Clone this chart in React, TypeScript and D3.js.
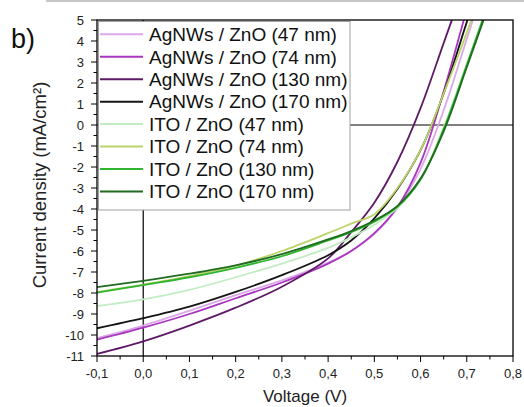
import React from "react";
import * as d3 from "d3";

const voltage = [-0.1, 0, 0.1, 0.2, 0.3, 0.4, 0.45, 0.5, 0.55, 0.6, 0.65, 0.7, 0.75];

const seriesNames = [
  "AgNWs / ZnO (47 nm)",
  "AgNWs / ZnO (74 nm)",
  "AgNWs / ZnO (130 nm)",
  "AgNWs / ZnO (170 nm)",
  "ITO / ZnO (47 nm)",
  "ITO / ZnO (74 nm)",
  "ITO / ZnO (130 nm)",
  "ITO / ZnO (170 nm)",
];
const seriesColors = ["#dba8e8", "#a836bf", "#5e1a66", "#151515", "#c2ecc2", "#bcd46a", "#2fb52f", "#1f6b1f"];

const ag47 = [-10.15, -9.55, -8.85, -8.1, -7.4, -6.55, -6.0, -5.2, -3.95, -2.1, 0.7, 4.1, 7.5];
const ag74 = [-10.22, -9.65, -9.0, -8.25, -7.5, -6.6, -6.0, -5.15, -3.9, -1.8, 1.6, 5.5, 9.3];
const ag130 = [-10.9, -10.3, -9.55, -8.7, -7.7, -6.35, -5.1, -3.7, -1.75, 0.8, 3.9, 7.0, 10.0];
const ag170 = [-9.68, -9.2, -8.65, -7.95, -7.15, -6.2, -5.5, -4.45, -3.05, -1.2, 1.5, 4.9, 8.2];
const ito47 = [-8.62, -8.3, -7.85, -7.25, -6.6, -5.85, -5.35, -4.75, -3.95, -2.6, -0.1, 2.9, 6.0];
const ito74 = [-7.95, -7.6, -7.2, -6.7, -6.0, -5.15, -4.7, -4.25, -3.0, -1.2, 1.5, 4.4, 7.4];
const ito130 = [-7.98, -7.62, -7.25, -6.8, -6.25, -5.5, -5.1, -4.6, -3.9, -2.6, -0.2, 2.85, 6.0];
const ito170 = [-7.72, -7.42, -7.08, -6.68, -6.15, -5.45, -5.05, -4.55, -3.85, -2.55, -0.3, 2.75, 5.85];

const seriesValues = [ag47, ag74, ag130, ag170, ito47, ito74, ito130, ito170];

const xTicks = [-0.1, 0, 0.1, 0.2, 0.3, 0.4, 0.5, 0.6, 0.7, 0.8];
const yTicks = [5, 4, 3, 2, 1, 0, -1, -2, -3, -4, -5, -6, -7, -8, -9, -10, -11];

const FONT = "'Liberation Sans', Arial, sans-serif";

export default function App() {
  const L = 97, R = 513, T = 20, B = 356;
  const x = d3.scaleLinear().domain([-0.1, 0.8]).range([L, R]);
  const y = d3.scaleLinear().domain([-11, 5]).range([B, T]);
  const line = d3
    .line<[number, number]>()
    .x((d) => x(d[0]))
    .y((d) => y(d[1]))
    .curve(d3.curveCatmullRom.alpha(0.5));

  const xMinor = d3.range(-0.1, 0.8001, 0.05);
  const yMinor = d3.range(-11, 5.001, 0.5);
  const fmtX = (v: number) => d3.format(".1f")(v).replace(".", ",").replace("−", "-");

  const legX = 98.5, legY = 21.5, legW = 251.5, legH = 188.5;
  const rowY = (i: number) => 34.3 + i * 22.45;

  return (
    <svg
      width={524}
      height={407}
      style={{ position: "absolute", left: 0, top: 0, background: "#fff" }}
      fontFamily={FONT}
    >
      <defs>
        <clipPath id="plotclip">
          <rect x={L} y={T} width={R - L} height={B - T} />
        </clipPath>
      </defs>
      <rect x={0} y={0} width={524} height={407} fill="#fff" />
      <line x1={46} x2={524} y1={1} y2={1} stroke="#c8c8c8" strokeWidth={2} />

      {/* reference lines */}
      <line x1={x(0)} x2={x(0)} y1={T} y2={B} stroke="#000" strokeWidth={1.2} />
      <line x1={L} x2={R} y1={y(0)} y2={y(0)} stroke="#000" strokeWidth={1.2} />

      {/* curves */}
      <g clipPath="url(#plotclip)">
        {seriesValues.map((vals, i) => (
          <path
            key={i}
            d={line(voltage.map((v, k) => [v, vals[k]] as [number, number])) || ""}
            fill="none"
            stroke={seriesColors[i]}
            strokeWidth={1.8}
          />
        ))}
      </g>

      {/* frame */}
      <rect x={L} y={T} width={R - L} height={B - T} fill="none" stroke="#000" strokeWidth={1.3} />

      {/* y ticks */}
      {yMinor.map((v, i) => (
        <line key={"ym" + i} x1={L - (Math.abs(v - Math.round(v)) < 1e-6 ? 6 : 3.5)} x2={L} y1={y(v)} y2={y(v)} stroke="#000" strokeWidth={1} />
      ))}
      {yTicks.map((v) => (
        <text key={"yt" + v} x={84} y={y(v)} dy="0.36em" textAnchor="end" fontSize={13} fill="#222">
          {String(v)}
        </text>
      ))}

      {/* x ticks */}
      {xMinor.map((v, i) => (
        <line key={"xm" + i} x1={x(v)} x2={x(v)} y1={B} y2={B + (i % 2 === 0 ? 6 : 3.5)} stroke="#000" strokeWidth={1} />
      ))}
      {xTicks.map((v) => (
        <text key={"xt" + v} x={x(v)} y={378} textAnchor="middle" fontSize={13} fill="#222">
          {fmtX(v)}
        </text>
      ))}

      {/* axis titles */}
      <text x={x(0.35)} y={402} textAnchor="middle" fontSize={17} fill="#222">
        Voltage (V)
      </text>
      <text transform={`translate(46,185) rotate(-90)`} textAnchor="middle" fontSize={18.5} fill="#222">
        Current density (mA/cm²)
      </text>

      <text x={11} y={48} fontSize={27} fill="#111">
        b)
      </text>

      {/* legend */}
      <rect x={legX} y={legY} width={legW} height={legH} fill="#fff" stroke="#a0a0a0" strokeWidth={1} />
      {seriesNames.map((name, i) => (
        <g key={"lg" + i}>
          <line x1={100} x2={143} y1={rowY(i)} y2={rowY(i)} stroke={seriesColors[i]} strokeWidth={2} />
          <text x={149} y={rowY(i)} dy="0.36em" fontSize={19} fill="#111">
            {name}
          </text>
        </g>
      ))}
    </svg>
  );
}
